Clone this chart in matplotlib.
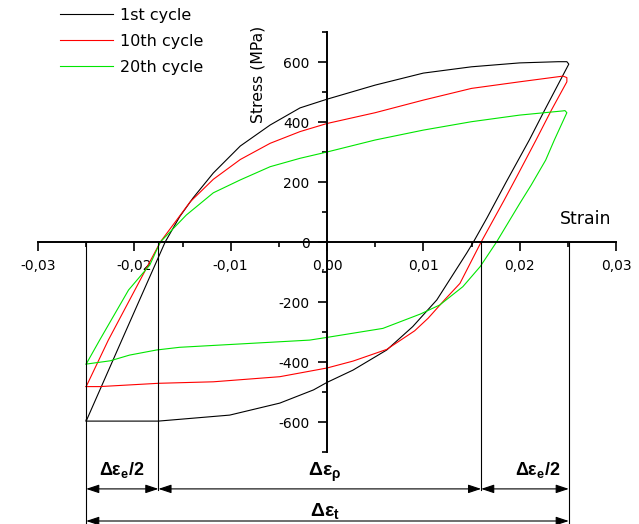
import matplotlib
matplotlib.use("Agg")
import matplotlib.pyplot as plt
from matplotlib.ticker import MultipleLocator, FuncFormatter

plt.rcParams['font.family'] = ['DejaVu Sans']
plt.rcParams['axes.unicode_minus'] = False
plt.rcParams['mathtext.fontset'] = 'custom'
plt.rcParams['mathtext.rm'] = 'Liberation Sans'
plt.rcParams['mathtext.it'] = 'Liberation Sans:italic'
plt.rcParams['mathtext.bf'] = 'Liberation Sans:bold'

# hysteresis loops: loading branch then unloading branch, strain / stress (MPa)
strain_1st = [-0.0250, -0.0213, -0.0168, -0.0153, -0.0139, -0.0118, -0.0090, -0.0059,
              -0.0028, 0.0000, 0.0050, 0.0100, 0.0150, 0.0200, 0.0240, 0.0249,
              0.0251, 0.0226, 0.0210, 0.0186, 0.0166, 0.0152, 0.0145, 0.0114, 0.0089,
              0.0062, 0.0027, 0.0000, -0.0014, -0.0049, -0.0101, -0.0175, -0.0250, -0.0250]
stress_1st = [-597, -327, 0, 84, 147, 230, 320, 390,
              447, 476, 523, 563, 584, 597, 601, 601,
              593, 440, 340, 200, 80, 0, -37, -193, -282,
              -360, -427, -468, -493, -537, -577, -597, -597, -593]

strain_10th = [-0.0250, -0.0227, -0.0173, -0.0142, -0.0118, -0.0090, -0.0059, -0.0028,
               0.0000, 0.0050, 0.0100, 0.0150, 0.0200, 0.0245,
               0.0249, 0.0249, 0.0233, 0.0217, 0.0197, 0.0184, 0.0160, 0.0138,
               0.0122, 0.0105, 0.0091, 0.0062, 0.0027, 0.0000, -0.0049, -0.0118,
               -0.0175, -0.0236, -0.0250]
stress_10th = [-482, -327, 0, 134, 209, 275, 329, 368,
               395, 431, 473, 512, 534, 553,
               548, 534, 440, 340, 218, 140, 0, -138,
               -193, -254, -296, -358, -397, -420, -449, -466,
               -471, -482, -482]

strain_20th = [-0.0250, -0.0236, -0.0206, -0.0184, -0.0173, -0.0146, -0.0118, -0.0090,
               -0.0059, -0.0028, 0.0000, 0.0050, 0.0100, 0.0150, 0.0200, 0.0245, 0.0247,
               0.0249, 0.0236, 0.0227, 0.0212, 0.0200, 0.0176, 0.0159, 0.0141, 0.0117,
               0.0097, 0.0058, 0.0027, 0.0000, -0.0018, -0.0153, -0.0177, -0.0205,
               -0.0225, -0.0250]
stress_20th = [-407, -327, -160, -77, 0, 90, 164, 207,
               251, 279, 300, 340, 373, 401, 423, 437, 438,
               431, 340, 273, 190, 128, 0, -82, -149, -210,
               -240, -288, -304, -318, -327, -351, -360, -377,
               -396, -407]

cycle_labels = ['1st cycle', '10th cycle', '20th cycle']
cycle_colors = ['black', 'red', '#00e600']

# strain limits used for the dimension lines
eps_min, eps_left0, eps_right0, eps_max = -0.025, -0.0175, 0.0160, 0.0251

fig = plt.figure(figsize=(6.39, 5.24), dpi=100)
ax = fig.add_axes([38 / 639, 72 / 524, 578 / 639, 420 / 524])

curves = [(strain_1st, stress_1st), (strain_10th, stress_10th), (strain_20th, stress_20th)]
for (sx, sy), lab, col in zip(curves, cycle_labels, cycle_colors):
    ax.plot(sx, sy, color=col, lw=0.8, label=lab)

ax.set_xlim(-0.03, 0.03)
ax.set_ylim(-700, 700)
for side in ['top', 'right']:
    ax.spines[side].set_visible(False)
ax.spines['left'].set_position(('data', 0))
ax.spines['bottom'].set_position(('data', 0))
ax.spines['left'].set_linewidth(1.4)
ax.spines['bottom'].set_linewidth(1.4)

ax.xaxis.set_major_locator(MultipleLocator(0.01))
ax.xaxis.set_minor_locator(MultipleLocator(0.005))
ax.yaxis.set_major_locator(MultipleLocator(200))
ax.yaxis.set_minor_locator(MultipleLocator(100))
ax.xaxis.set_major_formatter(FuncFormatter(lambda v, p: f"{round(v, 3) + 0.0:.2f}".replace('.', ',')))
ax.yaxis.set_major_formatter(FuncFormatter(lambda v, p: f"{int(round(v))}"))
ax.tick_params(which='major', direction='out', length=6.5, width=1.2, labelsize=10, pad=6)
ax.tick_params(which='minor', direction='out', length=3.5, width=1.2)

ax.text(-0.0072, 560, 'Stress (MPa)', rotation=90, ha='center', va='center', fontsize=11.3)
ax.text(0.0268, 77, 'Strain', ha='center', va='center', fontsize=12.5)

ax.legend(loc='upper left', bbox_to_anchor=(60 / 639, 1 - 8 / 524), bbox_transform=fig.transFigure,
          frameon=False, fontsize=11.5, handlelength=3.3, handletextpad=0.44,
          labelspacing=0.69, borderpad=0, borderaxespad=0)

# dimension lines under the loops
row1, row2 = -823, -930
for xv, ybot in [(eps_min, -945), (eps_left0, row1 - 3), (eps_right0, row1 - 3), (eps_max, -945)]:
    ax.plot([xv, xv], [0, ybot], color='black', lw=0.8, clip_on=False)

arrow = dict(arrowstyle='<|-|>,head_length=0.6,head_width=0.2', color='black', lw=0.8,
             mutation_scale=13, shrinkA=0, shrinkB=0)
for x0, x1 in [(eps_min, eps_left0), (eps_left0, eps_right0), (eps_right0, eps_max)]:
    ax.annotate('', xy=(x1, row1), xytext=(x0, row1), arrowprops=arrow, annotation_clip=False)
ax.annotate('', xy=(eps_max, row2), xytext=(eps_min, row2), arrowprops=arrow, annotation_clip=False)

ax.text(-0.0213, -760, r'$\mathbf{\Delta\varepsilon_{e}/2}$', ha='center', va='center', fontsize=13, clip_on=False)
ax.text(0.0219, -760, r'$\mathbf{\Delta\varepsilon_{e}/2}$', ha='center', va='center', fontsize=13, clip_on=False)
ax.text(-0.0002, -768, r'$\mathbf{\Delta\varepsilon_{\rho}}$', ha='center', va='center', fontsize=14, clip_on=False)
ax.text(-0.0002, -897, r'$\mathbf{\Delta\varepsilon_{t}}$', ha='center', va='center', fontsize=14, clip_on=False)

fig.savefig('out.png', dpi=100)
